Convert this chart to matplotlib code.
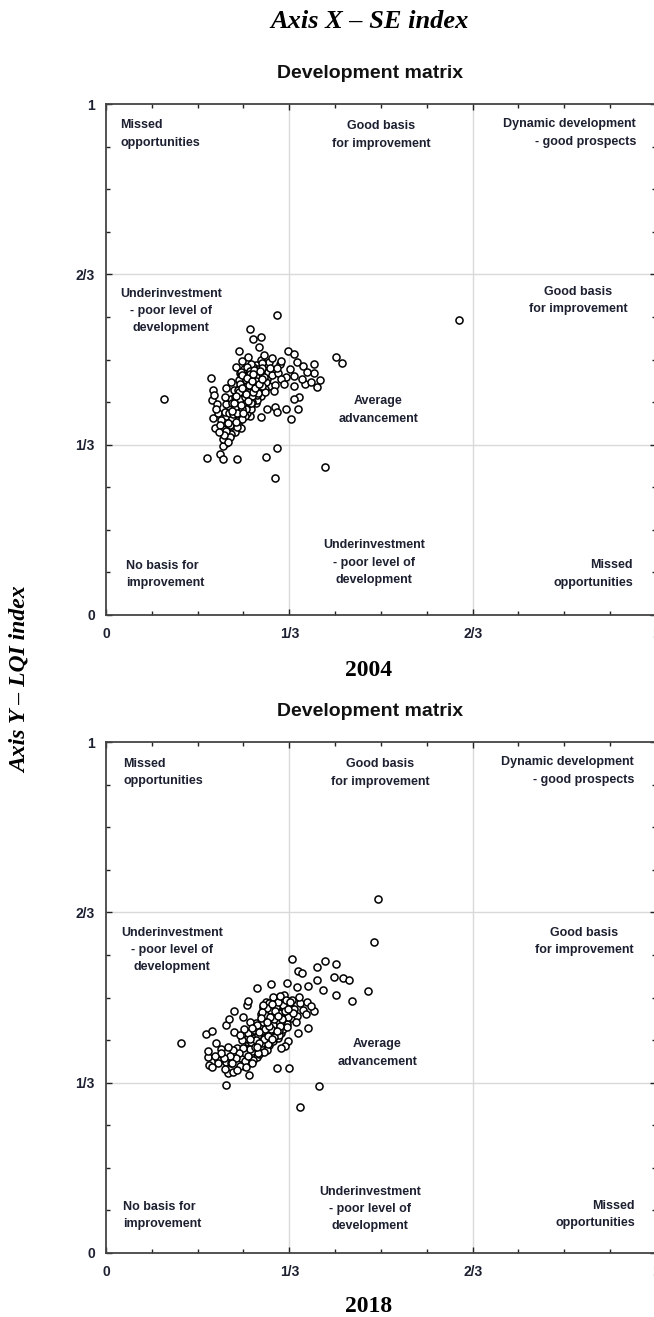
import matplotlib.pyplot as plt
from matplotlib.ticker import FixedLocator, MultipleLocator

# 2004 scatter: (SE index, LQI index)
pts_2004 = [
    # outer / sparse points
    (0.105, 0.423), (0.310, 0.588), (0.262, 0.559), (0.281, 0.545), (0.268, 0.540),
    (0.279, 0.525), (0.242, 0.517), (0.330, 0.517), (0.342, 0.511), (0.347, 0.496),
    (0.359, 0.487), (0.378, 0.492), (0.418, 0.504), (0.429, 0.494), (0.378, 0.474),
    (0.389, 0.460), (0.384, 0.447), (0.361, 0.452), (0.342, 0.449), (0.341, 0.468),
    (0.328, 0.465), (0.316, 0.492), (0.281, 0.500), (0.297, 0.496), (0.190, 0.464),
    (0.351, 0.427), (0.342, 0.423), (0.349, 0.403), (0.328, 0.403), (0.336, 0.383),
    (0.307, 0.408), (0.310, 0.398), (0.292, 0.404), (0.281, 0.388), (0.261, 0.389),
    (0.240, 0.374), (0.245, 0.365), (0.222, 0.367), (0.223, 0.348), (0.218, 0.336),
    (0.212, 0.331), (0.208, 0.316), (0.213, 0.306), (0.184, 0.308), (0.239, 0.305),
    (0.291, 0.310), (0.310, 0.327), (0.307, 0.269), (0.398, 0.289), (0.195, 0.440),
    (0.192, 0.421), (0.195, 0.385), (0.198, 0.365), (0.642, 0.577), (0.197, 0.430),
    (0.201, 0.412), (0.204, 0.395), (0.200, 0.403),
    (0.237, 0.486), (0.247, 0.498), (0.258, 0.505), (0.288, 0.509), (0.302, 0.503),
    (0.318, 0.497), (0.335, 0.481), (0.356, 0.462), (0.372, 0.455), (0.366, 0.475),
    (0.244, 0.474), (0.227, 0.455), (0.219, 0.444),
    # dense core
    (0.247, 0.437), (0.262, 0.451), (0.231, 0.402), (0.276, 0.468), (0.219, 0.389),
    (0.254, 0.418), (0.288, 0.479), (0.241, 0.426), (0.269, 0.442), (0.226, 0.371),
    (0.281, 0.456), (0.258, 0.473), (0.236, 0.392), (0.272, 0.489), (0.249, 0.409),
    (0.264, 0.431), (0.213, 0.364), (0.293, 0.462), (0.244, 0.447), (0.257, 0.396),
    (0.279, 0.437), (0.233, 0.418), (0.268, 0.459), (0.251, 0.482), (0.223, 0.407),
    (0.285, 0.471), (0.239, 0.381), (0.262, 0.424), (0.274, 0.452), (0.246, 0.463),
    (0.229, 0.386), (0.297, 0.448), (0.256, 0.441), (0.216, 0.398), (0.283, 0.494),
    (0.266, 0.476), (0.238, 0.433), (0.252, 0.389), (0.271, 0.428), (0.243, 0.415),
    (0.259, 0.458), (0.227, 0.423), (0.289, 0.443), (0.234, 0.359), (0.276, 0.481),
    (0.248, 0.452), (0.263, 0.404), (0.221, 0.376), (0.281, 0.429), (0.255, 0.466),
    (0.242, 0.394), (0.267, 0.486), (0.209, 0.382), (0.294, 0.476), (0.237, 0.411),
    (0.261, 0.437), (0.273, 0.414), (0.249, 0.428), (0.228, 0.354), (0.286, 0.459),
    (0.258, 0.412), (0.245, 0.476), (0.232, 0.441), (0.278, 0.445), (0.265, 0.469),
    (0.218, 0.412), (0.252, 0.454), (0.239, 0.368), (0.284, 0.484), (0.270, 0.437),
    (0.244, 0.401), (0.257, 0.431), (0.224, 0.395), (0.291, 0.455), (0.263, 0.492),
    (0.235, 0.426), (0.275, 0.421), (0.248, 0.384), (0.212, 0.345), (0.268, 0.448),
    (0.254, 0.403), (0.282, 0.468), (0.241, 0.459), (0.229, 0.414), (0.260, 0.445),
    (0.247, 0.421), (0.272, 0.474), (0.236, 0.377), (0.289, 0.436), (0.256, 0.486),
    (0.218, 0.361), (0.266, 0.417), (0.243, 0.438), (0.279, 0.462), (0.231, 0.393),
    (0.261, 0.464), (0.250, 0.443), (0.226, 0.349), (0.274, 0.431), (0.302, 0.469),
    (0.308, 0.451), (0.313, 0.474), (0.305, 0.438), (0.319, 0.461), (0.298, 0.484),
    (0.324, 0.452), (0.311, 0.483), (0.217, 0.426), (0.207, 0.371), (0.214, 0.352),
    (0.221, 0.338), (0.205, 0.358),
    (0.253, 0.447), (0.267, 0.463), (0.259, 0.427), (0.274, 0.441), (0.246, 0.432),
    (0.262, 0.478), (0.281, 0.472), (0.239, 0.421), (0.255, 0.459), (0.270, 0.451),
    (0.248, 0.404), (0.264, 0.443), (0.277, 0.458), (0.243, 0.452), (0.258, 0.437),
    (0.272, 0.466), (0.251, 0.416), (0.266, 0.428), (0.284, 0.448), (0.235, 0.405),
    (0.261, 0.471), (0.276, 0.434), (0.244, 0.423), (0.257, 0.449), (0.269, 0.479),
    (0.240, 0.441), (0.253, 0.426), (0.287, 0.466), (0.263, 0.415), (0.248, 0.469),
    (0.273, 0.457), (0.238, 0.396), (0.256, 0.463), (0.267, 0.436), (0.280, 0.477),
    (0.245, 0.411), (0.260, 0.451), (0.232, 0.414), (0.271, 0.445), (0.254, 0.433),
    (0.250, 0.395), (0.278, 0.452), (0.242, 0.437), (0.265, 0.457), (0.229, 0.399),
    (0.259, 0.419), (0.283, 0.461), (0.247, 0.445), (0.268, 0.471), (0.236, 0.429),
]

# 2018 scatter
pts_2018 = [
    # outer / sparse points
    (0.495, 0.693), (0.488, 0.609), (0.339, 0.575), (0.399, 0.571), (0.419, 0.565),
    (0.384, 0.559), (0.349, 0.552), (0.356, 0.548), (0.415, 0.540), (0.431, 0.538),
    (0.441, 0.534), (0.476, 0.513), (0.447, 0.494), (0.418, 0.504), (0.395, 0.515),
    (0.383, 0.534), (0.367, 0.523), (0.347, 0.521), (0.329, 0.529), (0.300, 0.526),
    (0.275, 0.519), (0.379, 0.474), (0.367, 0.441), (0.349, 0.431), (0.330, 0.415),
    (0.326, 0.406), (0.318, 0.402), (0.310, 0.363), (0.333, 0.363), (0.388, 0.326),
    (0.353, 0.286), (0.219, 0.329), (0.221, 0.352), (0.230, 0.354), (0.260, 0.348),
    (0.251, 0.365), (0.188, 0.367), (0.186, 0.384), (0.186, 0.396), (0.200, 0.410),
    (0.181, 0.429), (0.193, 0.435), (0.137, 0.410), (0.219, 0.446), (0.224, 0.457),
    (0.233, 0.474), (0.250, 0.462), (0.257, 0.485), (0.259, 0.493), (0.233, 0.433),
    (0.238, 0.402), (0.246, 0.381), (0.210, 0.399), (0.219, 0.374), (0.204, 0.378),
    (0.228, 0.371), (0.268, 0.387), (0.262, 0.378), (0.318, 0.430), (0.286, 0.407),
    # dense core
    (0.287, 0.446), (0.302, 0.461), (0.271, 0.428), (0.316, 0.479), (0.259, 0.412),
    (0.294, 0.437), (0.328, 0.487), (0.281, 0.452), (0.309, 0.444), (0.266, 0.395),
    (0.321, 0.466), (0.298, 0.483), (0.276, 0.418), (0.312, 0.498), (0.289, 0.421),
    (0.304, 0.436), (0.253, 0.391), (0.333, 0.472), (0.284, 0.463), (0.297, 0.407),
    (0.319, 0.448), (0.273, 0.439), (0.308, 0.469), (0.291, 0.492), (0.263, 0.425),
    (0.325, 0.481), (0.279, 0.401), (0.302, 0.428), (0.314, 0.457), (0.286, 0.472),
    (0.269, 0.408), (0.337, 0.459), (0.296, 0.451), (0.256, 0.419), (0.323, 0.504),
    (0.306, 0.486), (0.278, 0.442), (0.292, 0.398), (0.311, 0.431), (0.283, 0.426),
    (0.299, 0.468), (0.267, 0.433), (0.329, 0.449), (0.274, 0.384), (0.316, 0.491),
    (0.288, 0.459), (0.303, 0.414), (0.261, 0.399), (0.321, 0.438), (0.295, 0.474),
    (0.282, 0.405), (0.307, 0.495), (0.249, 0.402), (0.334, 0.484), (0.277, 0.421),
    (0.301, 0.444), (0.313, 0.421), (0.289, 0.434), (0.268, 0.378), (0.326, 0.465),
    (0.298, 0.417), (0.285, 0.481), (0.272, 0.451), (0.318, 0.452), (0.305, 0.477),
    (0.258, 0.431), (0.292, 0.462), (0.279, 0.389), (0.324, 0.493), (0.310, 0.445),
    (0.284, 0.411), (0.297, 0.438), (0.264, 0.413), (0.331, 0.461), (0.303, 0.501),
    (0.275, 0.431), (0.315, 0.427), (0.288, 0.394), (0.252, 0.376), (0.308, 0.456),
    (0.294, 0.409), (0.322, 0.476), (0.281, 0.468), (0.269, 0.421), (0.300, 0.453),
    (0.287, 0.428), (0.312, 0.482), (0.276, 0.392), (0.329, 0.442), (0.296, 0.489),
    (0.258, 0.386), (0.306, 0.423), (0.283, 0.441), (0.319, 0.471), (0.271, 0.404),
    (0.301, 0.472), (0.290, 0.449), (0.266, 0.371), (0.314, 0.436), (0.342, 0.478),
    (0.348, 0.463), (0.353, 0.489), (0.345, 0.452), (0.359, 0.475), (0.338, 0.496),
    (0.364, 0.467), (0.351, 0.501), (0.366, 0.492), (0.372, 0.483), (0.247, 0.417),
    (0.241, 0.392), (0.236, 0.381), (0.244, 0.366), (0.231, 0.397), (0.226, 0.386),
    (0.221, 0.404), (0.214, 0.381), (0.209, 0.392), (0.203, 0.371), (0.198, 0.386),
    (0.193, 0.364), (0.217, 0.361), (0.229, 0.371), (0.238, 0.358), (0.255, 0.364),
    (0.262, 0.452), (0.251, 0.438), (0.244, 0.426),
    (0.305, 0.466), (0.291, 0.441), (0.318, 0.462), (0.284, 0.434), (0.299, 0.476),
    (0.311, 0.451), (0.277, 0.426), (0.295, 0.458), (0.322, 0.486), (0.287, 0.419),
    (0.303, 0.447), (0.315, 0.469), (0.281, 0.446), (0.296, 0.431), (0.309, 0.481),
    (0.273, 0.417), (0.290, 0.466), (0.326, 0.473), (0.300, 0.438), (0.313, 0.492),
    (0.286, 0.453), (0.270, 0.436), (0.306, 0.458), (0.293, 0.479), (0.279, 0.411),
    (0.317, 0.444), (0.298, 0.462), (0.284, 0.471), (0.310, 0.434), (0.327, 0.496),
    (0.289, 0.439), (0.302, 0.488), (0.275, 0.447), (0.320, 0.457), (0.294, 0.424),
    (0.308, 0.473), (0.282, 0.459), (0.265, 0.441), (0.297, 0.444), (0.312, 0.463),
    (0.286, 0.485), (0.335, 0.491), (0.340, 0.470), (0.274, 0.404), (0.262, 0.418),
    (0.301, 0.419), (0.331, 0.478), (0.316, 0.502), (0.292, 0.452), (0.279, 0.433),
]

tick_vals = [0, 1/3, 2/3, 1]
tick_labels = ['0', '1/3', '2/3', '1']

quad_texts = ['Missed\nopportunities', 'Good basis\nfor improvement',
              'Dynamic development\n- good prospects',
              'Underinvestment\n- poor level of\ndevelopment',
              'Good basis\nfor improvement', 'Average\nadvancement',
              'No basis for\nimprovement',
              'Underinvestment\n- poor level of\ndevelopment',
              'Missed\nopportunities']

# label anchor (x, y, ha) per panel
pos_2004 = [(0.026, 0.941, 'left'), (0.500, 0.939, 'center'), (0.964, 0.943, 'right'),
            (0.118, 0.595, 'center'), (0.858, 0.616, 'center'), (0.495, 0.401, 'center'),
            (0.036, 0.079, 'left'), (0.487, 0.102, 'center'), (0.958, 0.080, 'right')]
pos_2018 = [(0.031, 0.940, 'left'), (0.498, 0.939, 'center'), (0.960, 0.943, 'right'),
            (0.120, 0.593, 'center'), (0.869, 0.610, 'center'), (0.493, 0.391, 'center'),
            (0.031, 0.073, 'left'), (0.480, 0.086, 'center'), (0.962, 0.075, 'right')]

W, H = 654, 1317
txt_color = '#1c2030'
sans = ['Liberation Sans', 'DejaVu Sans']
serif = ['Liberation Serif', 'DejaVu Serif']

fig = plt.figure(figsize=(W / 100, H / 100), dpi=100)


def setup_panel(ax, pts, positions):
    xs = [p[0] for p in pts]
    ys = [p[1] for p in pts]
    ax.set_xlim(0, 1)
    ax.set_ylim(0, 1)
    for v in (1/3, 2/3):
        ax.axvline(v, color='#d9d9d9', lw=1.0, zorder=0)
        ax.axhline(v, color='#d9d9d9', lw=1.0, zorder=0)
    ax.scatter(xs, ys, s=26, facecolors='white', edgecolors='black',
               linewidths=1.1, zorder=3)
    ax.xaxis.set_major_locator(FixedLocator(tick_vals))
    ax.yaxis.set_major_locator(FixedLocator(tick_vals))
    ax.set_xticklabels(tick_labels)
    ax.set_yticklabels(tick_labels)
    ax.xaxis.set_minor_locator(MultipleLocator(1/12))
    ax.yaxis.set_minor_locator(MultipleLocator(1/12))
    ax.tick_params(which='both', direction='in', top=True, right=True,
                   color='#222222', width=1.0)
    ax.tick_params(which='major', length=4)
    ax.tick_params(which='minor', length=3)
    ax.tick_params(axis='x', which='major', pad=9)
    ax.tick_params(axis='y', which='major', pad=8)
    for lab in ax.get_xticklabels() + ax.get_yticklabels():
        lab.set_family(sans)
        lab.set_fontweight('bold')
        lab.set_fontsize(10)
        lab.set_color(txt_color)
    for sp in ax.spines.values():
        sp.set_color('#444444')
        sp.set_linewidth(1.3)
    for t, (px, py, ha) in zip(quad_texts, positions):
        ax.text(px, py, t, ha=ha, va='center', multialignment=ha,
                fontsize=9, fontweight='bold', color=txt_color,
                family=sans, linespacing=1.6, zorder=4)


left = 106 / W
width = 550 / W
height = 511 / H

ax1 = fig.add_axes([left, 1 - 615 / H, width, height])
setup_panel(ax1, pts_2004, pos_2004)
ax2 = fig.add_axes([left, 1 - 1253 / H, width, height])
setup_panel(ax2, pts_2018, pos_2018)

# Titles and outer labels
fig.text(370 / W, 1 - 22 / H, 'Axis X – SE index', ha='center', va='center',
         fontsize=19, fontweight='bold', fontstyle='italic', family=serif)
fig.text(20 / W, 1 - 680 / H, 'Axis Y – LQI index', ha='center', va='center',
         rotation=90, fontsize=17, fontweight='bold', fontstyle='italic', family=serif)
fig.text(370 / W, 1 - 73 / H, 'Development matrix', ha='center', va='center',
         fontsize=14, fontweight='bold', family=sans, color='#111111')
fig.text(370 / W, 1 - 711 / H, 'Development matrix', ha='center', va='center',
         fontsize=14, fontweight='bold', family=sans, color='#111111')
fig.text(369 / W, 1 - 670 / H, '2004', ha='center', va='center',
         fontsize=17, fontweight='bold', family=serif)
fig.text(369 / W, 1 - 1306 / H, '2018', ha='center', va='center',
         fontsize=17, fontweight='bold', family=serif)

plt.savefig('out.png', dpi=100)
